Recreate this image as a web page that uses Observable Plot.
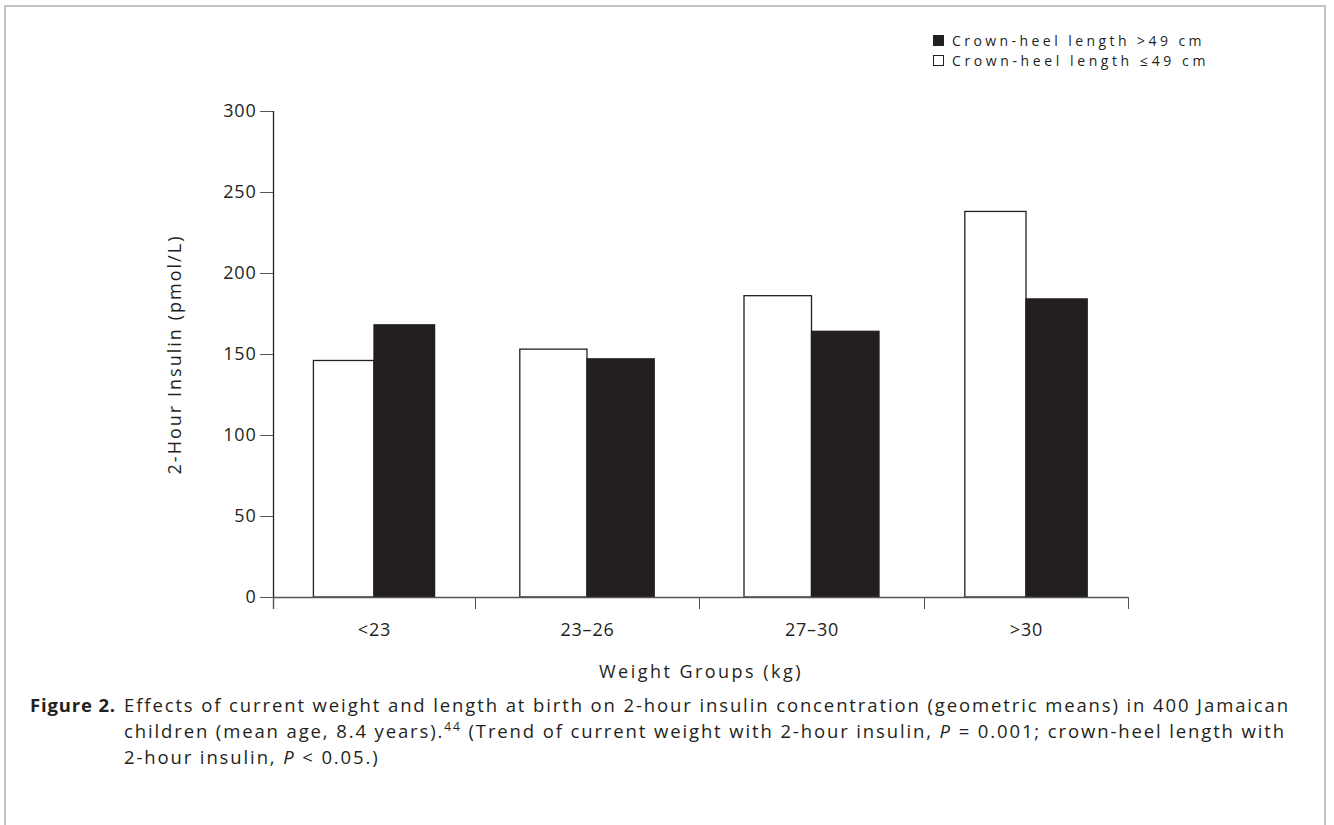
<!DOCTYPE html>
<html>
<head>
<meta charset="utf-8">
<script src="https://cdn.jsdelivr.net/npm/d3@7"></script>
<script src="https://cdn.jsdelivr.net/npm/@observablehq/plot@0.6"></script>
<style>
  html, body { margin: 0; padding: 0; background: #fff; }
  body { width: 1334px; height: 825px; position: relative; overflow: hidden; font-family: "Open Sans", sans-serif; color: #231f20; }
  #frame { position: absolute; left: 4px; top: 5px; width: 1322px; height: 840px; border: 2px solid #c4c4c4; border-bottom: none; box-sizing: border-box; }
  #chart { position: absolute; left: 0; top: 0; }
  #legend { position: absolute; left: 933px; top: 31px; font-size: 14px; line-height: 19.5px; }
  #legend .row { display: flex; align-items: center; white-space: nowrap; height: 19.5px; }
  #legend .sw { width: 11px; height: 11px; border: 1.2px solid #231f20; margin-right: 8px; box-sizing: border-box; flex: none; }
  #caption { position: absolute; left: 30px; top: 692px; font-size: 18.5px; line-height: 26px; white-space: nowrap; }
  #caption .lab { position: absolute; left: 0; top: 0; font-weight: bold; }
  #caption .line { position: absolute; left: 94px; white-space: nowrap; }
</style>
</head>
<body>
<div id="frame"></div>
<div id="chart"></div>
<div id="legend"></div>
<div id="caption"></div>
<script>
// ---- data ----
const groups = ["<23", "23–26", "27–30", ">30"];
const seriesNames = ["Crown-heel length ≤49 cm", "Crown-heel length >49 cm"];
const shortBirth = [146, 153, 186, 238];   // crown-heel length ≤49 cm (white bars)
const longBirth = [168, 147, 164, 184];    // crown-heel length >49 cm (black bars)
const yTicks = [0, 50, 100, 150, 200, 250, 300];
const legendOrder = [1, 0];
const captionLabel = "Figure 2.";
const captionLines = [
  "Effects of current weight and length at birth on 2-hour insulin concentration (geometric means) in 400 Jamaican",
  "children (mean age, 8.4 years).<sup>44</sup> (Trend of current weight with 2-hour insulin, <i>P</i> = 0.001; crown-heel length with",
  "2-hour insulin, <i>P</i> &lt; 0.05.)"
];

const ink = "#231f20";
const rows = [];
groups.forEach((g, i) => {
  rows.push({group: g, gi: i, s: 0, value: shortBirth[i]});
  rows.push({group: g, gi: i, s: 1, value: longBirth[i]});
});
const groupIdx = groups.map((g, i) => i);
const bounds = [0, 1, 2, 3, 4];

const chart = Plot.plot({
  width: 1334,
  height: 700,
  marginLeft: 273,
  marginRight: 206,
  marginTop: 111,
  marginBottom: 103,
  style: {fontFamily: "'Open Sans', sans-serif", fontSize: "18px", color: ink, background: "transparent"},
  x: {type: "linear", domain: bounds, range: [273, 475, 699, 924, 1128]},
  y: {domain: [0, 300]},
  marks: [
    Plot.rectY(rows, {
      x1: d => d.gi + 0.5 - (1 - d.s) * 0.3,
      x2: d => d.gi + 0.5 + d.s * 0.3,
      y1: 0, y2: "value",
      fill: d => d.s ? ink : "#fff",
      stroke: ink, strokeWidth: 1.3
    }),
    Plot.ruleY([0], {stroke: "#555", strokeWidth: 1.3}),
    Plot.ruleX([0], {y1: 300, y2: 0, stroke: ink, strokeWidth: 1.3, insetBottom: -12}),
    Plot.axisY({ticks: yTicks, tickSize: 13, tickPadding: 4, label: "2-Hour Insulin (pmol/L)", labelAnchor: "center", labelArrow: "none", labelOffset: 105, fontSize: 18, stroke: "#555"}),
    Plot.axisX({ticks: bounds, tickSize: 12, tickFormat: () => "", label: null, stroke: "#555"}),
    Plot.axisX(groupIdx.map(i => i + 0.5), {tickSize: 0, tickPadding: 26, tickFormat: v => groups[Math.floor(v)], fontSize: 18, label: "Weight Groups (kg)", labelAnchor: "center", labelArrow: "none", labelOffset: 80})
  ]
});
document.getElementById("chart").appendChild(chart);

// fit helpers (letter-spacing to mimic the wide original typeface)
function fitHtml(el, target) {
  el.style.letterSpacing = "0px";
  const w = el.getBoundingClientRect().width;
  const n = el.textContent.length;
  el.style.letterSpacing = ((target - w) / n) + "px";
}
function fitSvg(el, target) {
  el.style.letterSpacing = "0px";
  const w = el.getComputedTextLength();
  const n = el.textContent.length;
  el.style.letterSpacing = ((target - w) / n) + "px";
}
chart.querySelectorAll('g[aria-label="y-axis tick label"] text, g[aria-label="x-axis tick label"] text').forEach(t => t.style.letterSpacing = "0.8px");
const yl = chart.querySelector('g[aria-label="y-axis label"] text');
if (yl) fitSvg(yl, 240);
const xl = chart.querySelector('g[aria-label="x-axis label"] text');
if (xl) fitSvg(xl, 204);

// legend
const legend = document.getElementById("legend");
legendOrder.forEach(s => {
  const row = document.createElement("div");
  row.className = "row";
  const sw = document.createElement("div");
  sw.className = "sw";
  sw.style.background = s ? ink : "#fff";
  row.appendChild(sw);
  const tx = document.createElement("span");
  tx.textContent = seriesNames[s];
  row.appendChild(tx);
  legend.appendChild(row);
  fitHtml(tx, s ? 253 : 257);
});

// caption
const cap = document.getElementById("caption");
const lab = document.createElement("div");
lab.className = "lab";
lab.textContent = captionLabel;
cap.appendChild(lab);
fitHtml(lab, 86);
const lineTargets = [1166, 1162, null];
let ls = 0;
captionLines.forEach((html, k) => {
  const d = document.createElement("div");
  d.className = "line";
  d.style.top = (k * 26) + "px";
  d.innerHTML = html;
  d.querySelectorAll("sup").forEach(s => { s.style.fontSize = "12px"; s.style.lineHeight = "0"; s.style.verticalAlign = "7px"; });
  cap.appendChild(d);
  if (lineTargets[k]) { fitHtml(d, lineTargets[k]); ls = parseFloat(d.style.letterSpacing); }
  else d.style.letterSpacing = ls + "px";
});
</script>
</body>
</html>
